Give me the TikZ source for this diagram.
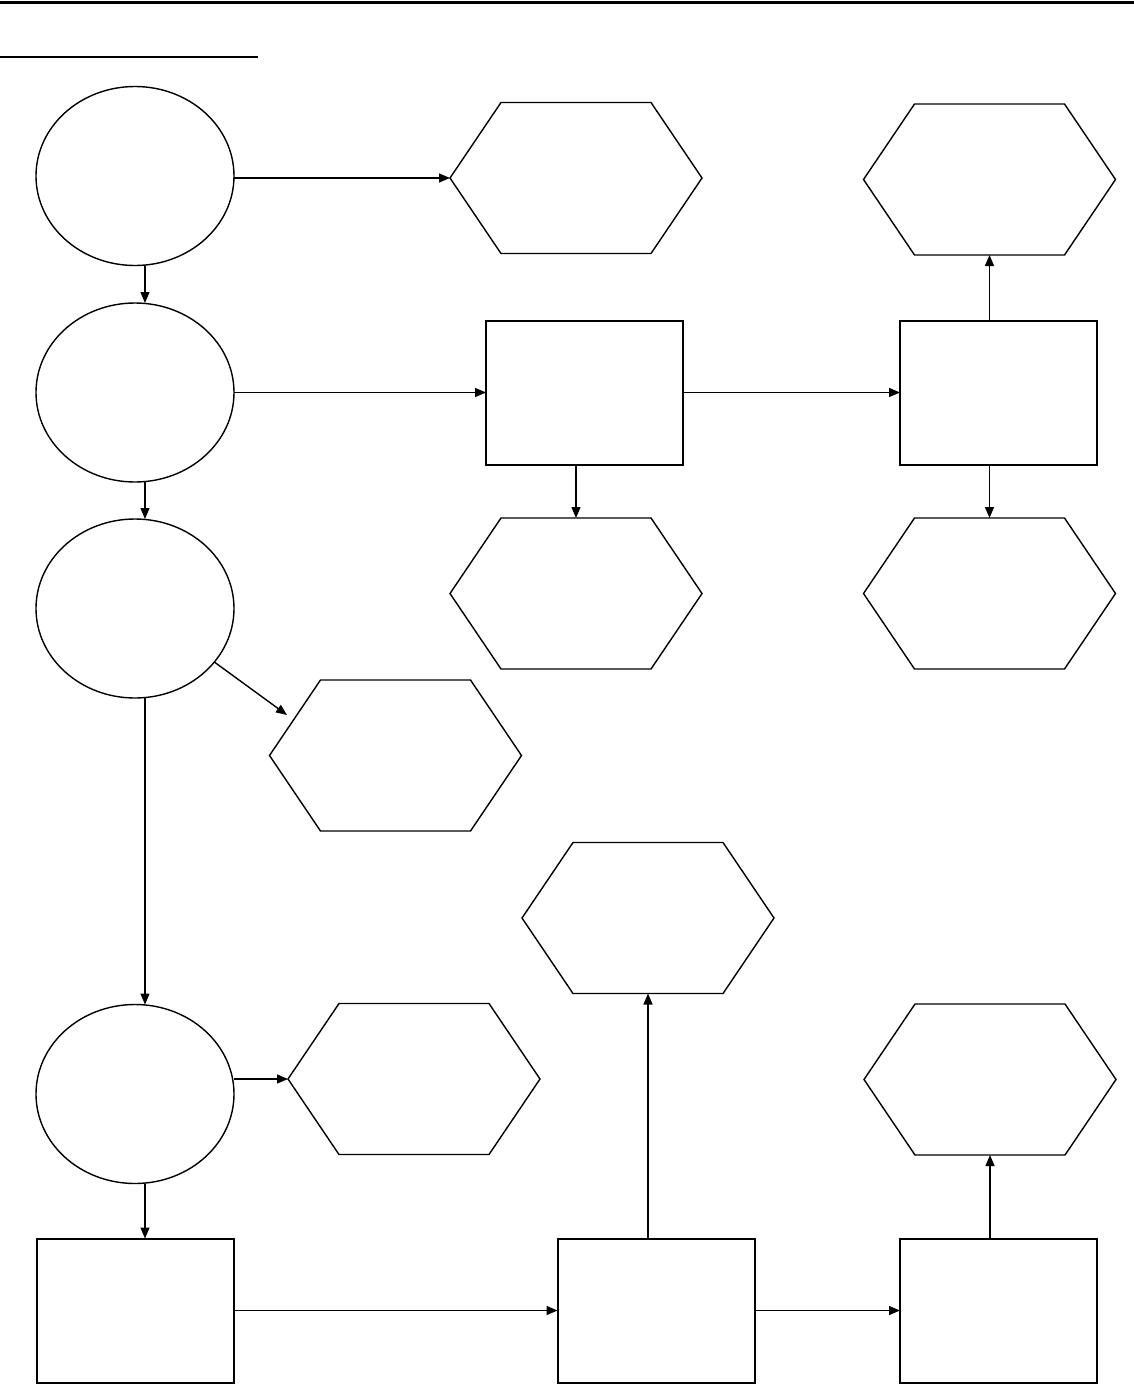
\documentclass[tikz,border=0pt]{standalone}
\usetikzlibrary{arrows.meta,shapes.geometric}
\tikzset{
  thinline/.style={line width=1.4pt},
  arr/.style={thinline,-{Triangle[length=11pt,width=9pt]}},
  oval/.style={ellipse,draw,thinline,minimum width=198pt,minimum height=179pt,inner sep=0pt,outer sep=0pt},
  box/.style={rectangle,draw,line width=2pt,minimum width=197pt,minimum height=144pt,inner sep=0pt,outer sep=0pt},
  hexbox/.style={rectangle,minimum width=252pt,minimum height=151pt,inner sep=0pt,outer sep=0pt}
}
\newcommand\hexnode[3]{%
  \node[hexbox] (#1) at (#2,#3) {};
  \draw[thinline,line join=miter] (#1.west) -- ([xshift=51pt]#1.north west) -- ([xshift=-51pt]#1.north east)
    -- (#1.east) -- ([xshift=-51pt]#1.south east) -- ([xshift=51pt]#1.south west) -- cycle;}
\begin{document}
\begin{tikzpicture}[x=1pt,y=-1pt]
\useasboundingbox (0,0) rectangle (1134,1384);
\fill[white] (0,0) rectangle (1134,1384);
% header rules
\draw[line width=3pt] (0,2) -- (1134,2);
\draw[line width=2pt] (0,57) -- (258,57);
% ellipses
\node[oval] (E1) at (135,176) {};
\node[oval] (E2) at (135,392.5) {};
\node[oval] (E3) at (135,608.5) {};
\node[oval] (E4) at (135,1094) {};
% rectangles
\node[box] (R1) at (584.5,392.5) {};
\node[box] (R2) at (998.5,392.5) {};
\node[box] (R3) at (135,1310.5) {};
\node[box] (R4) at (656,1310.5) {};
\node[box] (R5) at (998.5,1310.5) {};
% hexagons
\hexnode{H1}{576}{178}
\hexnode{H2}{989.5}{179.5}
\hexnode{H3}{576}{593.5}
\hexnode{H4}{989.5}{593.5}
\hexnode{H5}{395.5}{755.5}
\hexnode{H6}{414}{1079}
\hexnode{H7}{648}{918}
\hexnode{H8}{990}{1079.5}
\coordinate (t5) at (287,715);
% connectors
\draw[arr] ([xshift=10pt]E1.south) -- ([xshift=10pt]E2.north);
\draw[arr] (E1.east |- H1.west) -- (H1.west);
\draw[arr] (E2.east) -- (R1.west);
\draw[arr] (R1.east) -- (R2.west);
\draw[arr] (H2.south |- R2.north) -- (H2.south);
\draw[arr] (H3.north |- R1.south) -- (H3.north);
\draw[arr] (H4.north |- R2.south) -- (H4.north);
\draw[arr] ([xshift=10pt]E2.south) -- ([xshift=10pt]E3.north);
\draw[arr] (E3.-34) -- (t5);
\draw[arr] ([xshift=10pt]E3.south) -- ([xshift=10pt]E4.north);
\draw[arr] (E4.east |- H6.west) -- (H6.west);
\draw[arr] ([xshift=10pt]E4.south) -- ([xshift=10pt]R3.north);
\draw[arr] (R3.east) -- (R4.west);
\draw[arr] (H7.south |- R4.north) -- (H7.south);
\draw[arr] (R4.east) -- (R5.west);
\draw[arr] (H8.south |- R5.north) -- (H8.south);
\end{tikzpicture}
\end{document}
